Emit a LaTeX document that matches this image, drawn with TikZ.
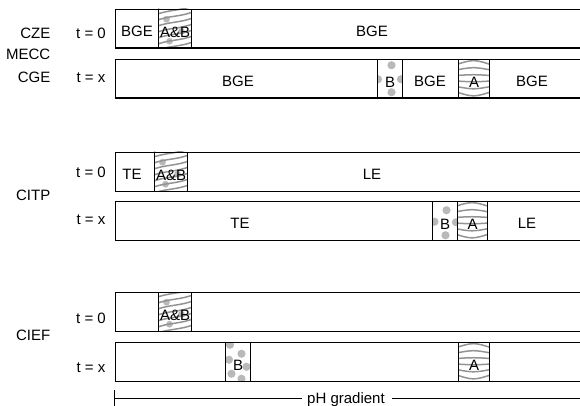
\documentclass[tikz,border=0pt]{standalone}
\usepackage{fontspec}
\setmainfont{Liberation Sans}
% pattern helpers: #1 = left x, #2 = top y, #3 = width
\newcommand\mypatA[3]{%
  \begin{scope}[shift={({#1+#3/2},{#2+19.25})}]
    \clip ({-#3/2},-19.25) rectangle ({#3/2},19.25);
    \foreach \i in {-2.5,-1.5,-0.5,0.5,1.5,2.5}
      \draw[patline] (-20,{\i*6.4*0.8}) .. controls (0,{\i*6.4*1.2}) .. (20,{\i*6.4*0.8});
  \end{scope}}
\newcommand\mypatB[4]{%
  \begin{scope}[shift={({#1+#3/2},{#2+19.25})}]
    \clip ({-#3/2},-19.25) rectangle ({#3/2},19.25);
    \foreach \px/\py in {#4}
      \fill[patdot] (\px,\py) circle (4.1);
  \end{scope}}
\newcommand\mypatAB[3]{%
  \begin{scope}[shift={({#1+#3/2},{#2+19.25})}]
    \clip ({-#3/2},-19.25) rectangle ({#3/2},19.25);
    \foreach \px/\py in {-8/-9,7/3,-5/13}
      \fill[patdot] (\px,\py) circle (3.4);
    \foreach \i in {-4,...,4}
      \draw[patline] (-20,{\i*6+5}) .. controls (-6,{\i*6-1}) and (6,{\i*6+1}) .. (20,{\i*6-5});
  \end{scope}}
\begin{document}
\begin{tikzpicture}[x=1pt,y=-1pt,
  lab/.style={font=\fontsize{15}{17}\selectfont, inner sep=0pt, anchor=base},
  side/.style={lab, anchor=base east},
  rowbox/.style={draw=black, line width=1.1pt, minimum width=480pt, minimum height=38.5pt, inner sep=0pt, anchor=north west},
  seg/.style={draw=black, line width=1.1pt, minimum height=38.5pt, inner sep=0pt, anchor=north west,
              font=\fontsize{15}{17}\selectfont, text height=16.5pt, text depth=0pt},
  patline/.style={draw=gray!85, line width=1.5pt},
  patdot/.style={fill=gray!55, draw=none},
  phline/.style={line width=0.9pt},
]
\clip (0,0) rectangle (580,406);

% ---------- patterns (under the boxes) ----------
\mypatAB{158}{9}{33}
\mypatB{377}{59}{25}{2/-13,-11.5/1,11.5/1,2/14}
\mypatA{458}{59}{31}
\mypatAB{154}{152}{33}
\mypatB{432}{201}{25}{2/-10,-10/1.5,11.5/2,1/15}
\mypatA{457}{201}{30}
\mypatAB{158}{292}{33}
\mypatB{225}{342}{25}{-7.5/-16.5,4/-7.5,-8.5/-1.5,9/5.5,-6/12.5,4/17.5}
\mypatA{458}{342}{31}

% ---------- CZE / MECC / CGE ----------
\node[rowbox] (r1) at (115,9) {};
\node[rowbox] (r2) at (115,59) {};
\node[side] (cze) at (50.5,39) {CZE};
\node[side] (mecc) at (50.5,60) {MECC};
\node[side] (cge) at (50.5,83) {CGE};
\node[lab] (t1) at (91,39) {t = 0};
\node[lab] (t2) at (91,83) {t = x};

\node[lab] (r1bge1) at (137,36.5) {BGE};
\node[seg, minimum width=33pt] (r1ab) at (158,9) {A\&B};
\node[lab] (r1bge2) at (372,36.5) {BGE};

\node[lab] (r2bge1) at (238,86.5) {BGE};
\node[seg, minimum width=25pt] (r2b) at (377,59) {B};
\node[lab] (r2bge2) at (430,86.5) {BGE};
\node[seg, minimum width=31pt] (r2a) at (458,59) {A};
\node[lab] (r2bge3) at (532,86.5) {BGE};

% ---------- CITP ----------
\node[rowbox] (r3) at (115,152) {};
\node[rowbox] (r4) at (115,201) {};
\node[side] (citp) at (50.5,200) {CITP};
\node[lab] (t3) at (91,177) {t = 0};
\node[lab] (t4) at (91,224) {t = x};

\node[lab] (r3te) at (132,179.5) {TE};
\node[seg, minimum width=33pt] (r3ab) at (154,152) {A\&B};
\node[lab] (r3le) at (372,179.5) {LE};

\node[lab] (r4te) at (240,228.5) {TE};
\node[seg, minimum width=25pt] (r4b) at (432,201) {B};
\node[seg, minimum width=30pt] (r4a) at (457,201) {A};
\node[lab] (r4le) at (527,228.5) {LE};

% ---------- CIEF ----------
\node[rowbox] (r5) at (115,292) {};
\node[rowbox] (r6) at (115,342) {};
\node[side] (cief) at (50.5,340) {CIEF};
\node[lab] (t5) at (91,323) {t = 0};
\node[lab] (t6) at (91,372) {t = x};

\node[seg, minimum width=33pt] (r5ab) at (158,292) {A\&B};
\node[seg, minimum width=25pt] (r6b) at (225,342) {B};
\node[seg, minimum width=31pt] (r6a) at (458,342) {A};

% ---------- pH gradient ----------
\node[lab] (ph) at (346,403) {pH gradient};
\coordinate (phl) at (114.5,398);
\coordinate (phr) at (582,398);
\coordinate (tickt) at (114.5,390);
\coordinate (tickb) at (114.5,408);
\draw[phline] (tickt) -- (tickb);
\draw[phline] (phl) -- ([xshift=-5pt]ph.west |- phl);
\draw[phline] ([xshift=7pt]ph.east |- phr) -- (phr);
\end{tikzpicture}
\end{document}
